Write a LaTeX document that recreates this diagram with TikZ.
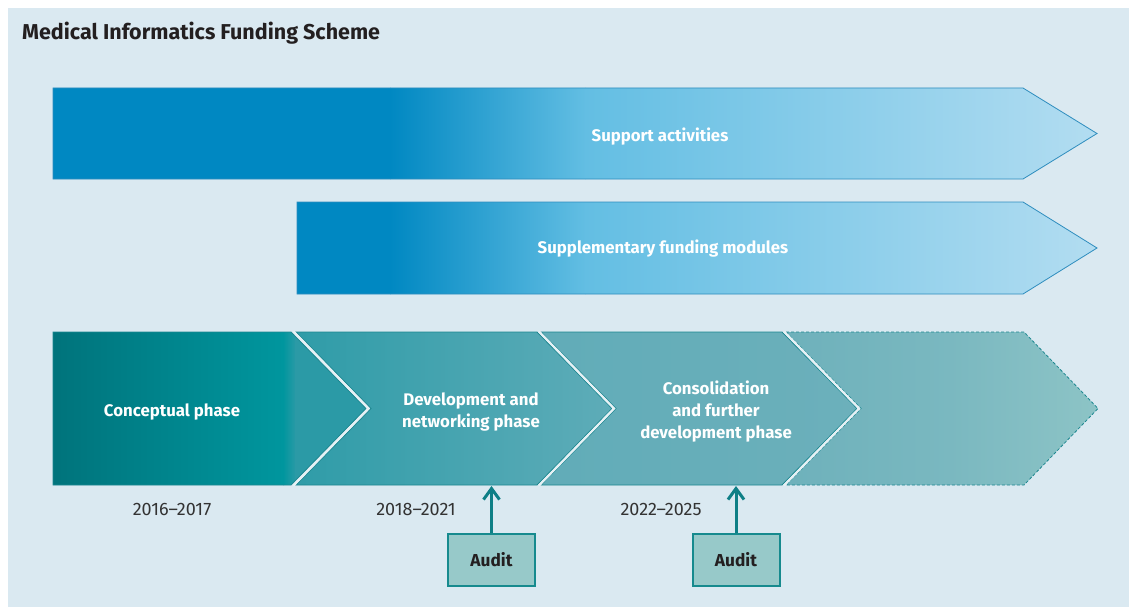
\documentclass[tikz,border=0pt]{standalone}
\usepackage{fontspec}
\setmainfont{Fira Sans}
\usetikzlibrary{arrows.meta}
\definecolor{bg}{HTML}{DAE9F1}
\definecolor{gapc}{HTML}{E6F1F5}
\definecolor{bardark}{HTML}{0088C2}
\definecolor{barmid}{HTML}{63BEE3}
\definecolor{barlight}{HTML}{B3DDF1}
\definecolor{barline}{HTML}{2E8DBE}
\definecolor{phaseline}{HTML}{1C8790}
\definecolor{auditfill}{HTML}{97C9C9}
\definecolor{auditline}{HTML}{168A8E}
\definecolor{arrowc}{HTML}{0E7F86}
\definecolor{titlec}{HTML}{231F20}
\definecolor{datec}{HTML}{333333}
\definecolor{pa}{HTML}{00737B}
\definecolor{pb}{HTML}{00969E}
\definecolor{pc}{HTML}{2B9AA6}
\definecolor{pd}{HTML}{2F9CA8}
\definecolor{pe}{HTML}{5EACB8}
\definecolor{pf}{HTML}{61ACB8}
\definecolor{pg}{HTML}{6CB0BB}
\definecolor{ph}{HTML}{6EB1BB}
\definecolor{pi}{HTML}{7AB8C0}
\definecolor{pj}{HTML}{8DC4C6}
\tikzset{
  whitelabel/.style={text=white, font=\bfseries\fontsize{16.8}{22}\selectfont, align=center, inner sep=0pt},
  datelabel/.style={text=datec, font=\fontsize{18}{20}\selectfont, anchor=base, inner sep=0pt},
  auditbox/.style={draw=auditline, line width=2pt, fill=auditfill, minimum width=87pt, minimum height=52pt, inner sep=0pt, text=titlec, font=\bfseries\fontsize{17.3}{20}\selectfont},
  auditarrow/.style={draw=arrowc, line width=3pt, -{Straight Barb[length=11pt,width=16pt]}},
  barline/.style={draw=barline, line width=0.8pt},
  phaseline/.style={draw=phaseline, line width=0.8pt},
  gapline/.style={draw=gapc, line width=2.2pt}
}
\begin{document}
\begin{tikzpicture}[x=1pt,y=-1pt]
\useasboundingbox (0,0) rectangle (1129,607);
\fill[bg] (8,8) rectangle (1129,607);

% title
\node[anchor=base west, inner sep=0pt, text=titlec, font=\bfseries\fontsize{21.5}{24}\selectfont] (title) at (22,40) {Medical Informatics Funding Scheme};

% bar 1
\begin{scope}
\clip (53,88) -- (1023,88) -- (1097,133.5) -- (1023,179) -- (53,179) -- cycle;
\fill[bardark] (50,80) rectangle (391,185);
\shade[left color=bardark, right color=barmid] (390,80) rectangle (586,185);
\shade[left color=barmid, right color=barlight] (585,80) rectangle (1100,185);
\end{scope}
\draw[barline] (53,88) -- (1023,88) -- (1097,133.5) -- (1023,179) -- (53,179) -- cycle;
\node[whitelabel] (support) at (660,137) {Support activities};

% bar 2
\begin{scope}
\clip (297,202) -- (1023,202) -- (1097,248) -- (1023,294) -- (297,294) -- cycle;
\fill[bardark] (290,195) rectangle (391,300);
\shade[left color=bardark, right color=barmid] (390,195) rectangle (586,300);
\shade[left color=barmid, right color=barlight] (585,195) rectangle (1100,300);
\end{scope}
\draw[barline] (297,202) -- (1023,202) -- (1097,248) -- (1023,294) -- (297,294) -- cycle;
\node[whitelabel] (supp) at (663,249) {Supplementary funding modules};

% phase 1
\begin{scope}
\clip (53,332) -- (291,332) -- (366,408.5) -- (291,485) -- (53,485) -- cycle;
\shade[left color=pa, right color=pb] (50,325) rectangle (284,490);
\shade[left color=pb, right color=pc] (283,325) rectangle (296,490);
\fill[pc] (295,325) rectangle (370,490);
\end{scope}
\draw[phaseline] (53,332) -- (291,332) -- (366,408.5) -- (291,485) -- (53,485) -- cycle;
\node[whitelabel] (p1) at (172,412) {Conceptual phase};

% phase 2
\begin{scope}
\clip (296,332) -- (537,332) -- (612,408.5) -- (537,485) -- (296,485) -- (371,408.5) -- cycle;
\shade[left color=pd, right color=pe] (296,325) rectangle (612,490);
\end{scope}
\draw[phaseline] (296,332) -- (537,332) -- (612,408.5) -- (537,485) -- (296,485) -- (371,408.5) -- cycle;
\node[whitelabel] (p2) at (471,412) {Development and\\networking phase};

% phase 3
\begin{scope}
\clip (541,332) -- (782,332) -- (857,408.5) -- (782,485) -- (541,485) -- (616,408.5) -- cycle;
\shade[left color=pf, right color=pg] (541,325) rectangle (857,490);
\end{scope}
\draw[phaseline] (541,332) -- (782,332) -- (857,408.5) -- (782,485) -- (541,485) -- (616,408.5) -- cycle;
\node[whitelabel] (p3) at (716,412) {Consolidation\\and further\\development phase};

% phase 4
\begin{scope}
\clip (786,332) -- (1024,332) -- (1098,408.5) -- (1024,485) -- (786,485) -- (861,408.5) -- cycle;
\shade[left color=ph, right color=pi] (786,325) rectangle (950,490);
\shade[left color=pi, right color=pj] (949,325) rectangle (1100,490);
\end{scope}
\draw[phaseline, dash pattern=on 3pt off 2pt] (786,332) -- (1024,332) -- (1098,408.5) -- (1024,485) -- (786,485) -- (861,408.5) -- cycle;

% white gaps between phases
\draw[gapline] (293.5,331.5) -- (368.5,408.5) -- (293.5,485.5);
\draw[gapline] (539,331.5) -- (614,408.5) -- (539,485.5);
\draw[gapline] (784,331.5) -- (859,408.5) -- (784,485.5);

% dates
\node[datelabel] (d1) at (172,515) {2016--2017};
\node[datelabel] (d2) at (416,515) {2018--2021};
\node[datelabel] (d3) at (661,515) {2022--2025};

% audits
\node[auditbox] (audit1) at (491.5,560) {Audit};
\node[auditbox] (audit2) at (736,560) {Audit};
\coordinate (tip1) at (491.5,486);
\coordinate (tip2) at (736,486);
\draw[auditarrow] (audit1.north) -- (tip1);
\draw[auditarrow] (audit2.north) -- (tip2);
\end{tikzpicture}
\end{document}
